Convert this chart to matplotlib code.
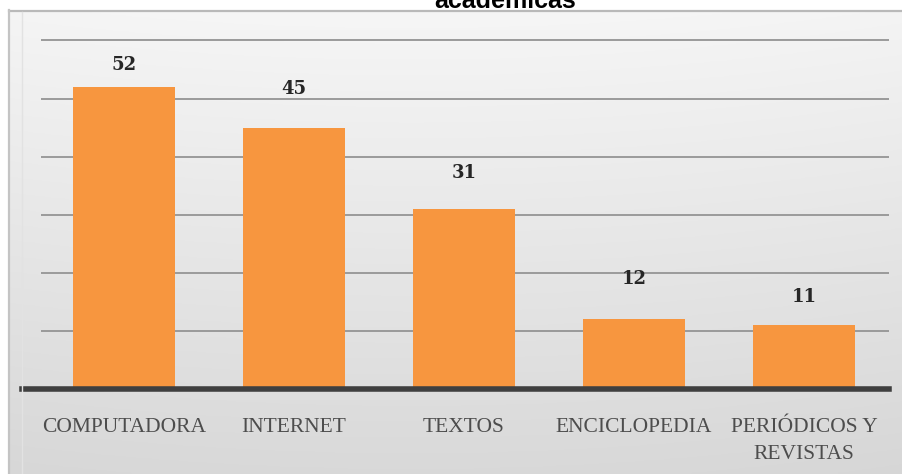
import numpy as np
import matplotlib
matplotlib.use("Agg")
import matplotlib.pyplot as plt

# Data
categories = ["COMPUTADORA", "INTERNET", "TEXTOS", "ENCICLOPEDIA", "PERIÓDICOS Y\nREVISTAS"]
values = [52, 45, 31, 12, 11]
gridline_values = [10, 20, 30, 40, 50, 60]
title_text = "académicas"

# Layout / style
label_offsets_pt = [15.5, 27.5, 26, 29, 20]   # gap between bar top and its value label
bar_color = "#F7963F"
W, H, DPI = 903, 474, 100

fig = plt.figure(figsize=(W / DPI, H / DPI), dpi=DPI)
fig.patch.set_facecolor("white")

# Chart-area background: soft grey gradient panel
bg = fig.add_axes([9 / W, 0, 1 - 9 / W, (H - 10) / H], zorder=0)
ny, nx = 200, 300
yy, xx = np.mgrid[0:1:ny * 1j, 0:1:nx * 1j]
shade = 0.965 - 0.115 * yy - 0.03 * (xx - 0.45) ** 2
img = np.dstack([shade, shade, shade])
bg.imshow(img, aspect="auto", extent=[0, 1, 0, 1], origin="upper")
bg.set_xlim(0, 1)
bg.set_ylim(0, 1)
bg.axis("off")
# thin frame at top and left edges of the panel
fig.add_artist(plt.Line2D([9 / W, 1], [(H - 10.5) / H] * 2, color="#b9b9b9", lw=1.6))
fig.add_artist(plt.Line2D([9.5 / W] * 2, [0, (H - 10) / H], color="#c4c4c4", lw=1.6))
fig.add_artist(plt.Line2D([22 / W] * 2, [0, (H - 12) / H], color="#e2e2e2", lw=1.0))

# Plot axes
left_px, right_px, base_px = 22, 889, 389
px_per_unit = 5.81
ytop = 62
ax = fig.add_axes([left_px / W, (H - base_px) / H, (right_px - left_px) / W,
                   ytop * px_per_unit / H], zorder=1)
ax.patch.set_alpha(0)
x = np.arange(len(categories))
ax.set_xlim(-0.6, 4.5)
ax.set_ylim(0, ytop)

ax.hlines(gridline_values, -0.49, 4.5, colors="#9a9a9a", linewidth=1.4, zorder=1)
ax.bar(x, values, width=0.6, color=bar_color, zorder=2)
ax.axhline(0, color="#3f3f3f", linewidth=4, zorder=3, clip_on=False)

for xi, v, off in zip(x, values, label_offsets_pt):
    ax.annotate(str(v), (xi, v), xytext=(0, off), textcoords="offset points",
                ha="center", va="center", fontsize=13, fontweight="bold",
                family="DejaVu Serif", color="#262626")

for s in ax.spines.values():
    s.set_visible(False)
ax.set_yticks([])
ax.set_xticks(x)
ax.set_xticklabels(categories, family="Liberation Serif", fontsize=15.5,
                   color="#4d4d4d", linespacing=1.55)
ax.tick_params(axis="x", length=0, pad=21)

fig.text(505 / W, 1 - 8 / H, title_text, ha="center", va="baseline",
         fontsize=18, fontweight="bold", family="Liberation Sans", color="black")

fig.savefig("out.png", dpi=DPI)
